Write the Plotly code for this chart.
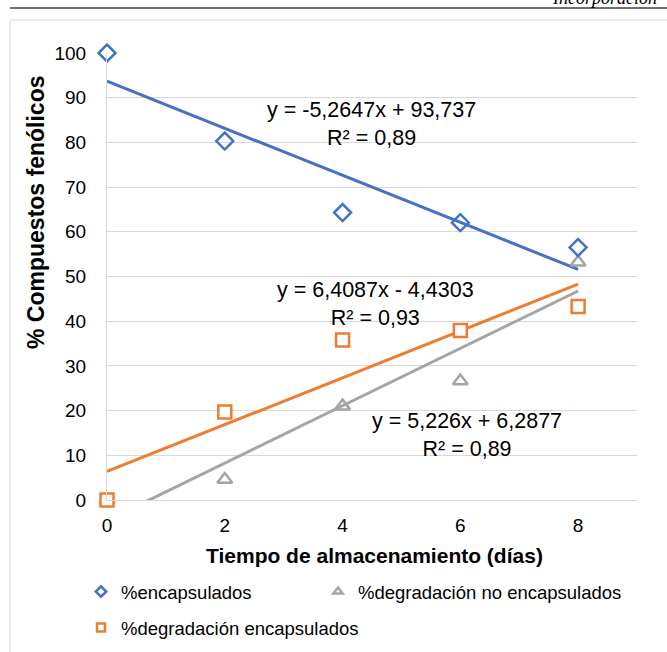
import numpy as np
import plotly.graph_objects as go

# ---- data ----
dias = [0, 2, 4, 6, 8]
encapsulados = [100.0, 80.3, 64.3, 62.05, 56.5]
degr_no_encaps = [0.0, 4.6, 21.0, 26.6, 53.2]
degr_encaps = [0.0, 19.7, 35.8, 37.9, 43.3]
x_ticks = [0, 2, 4, 6, 8]
y_ticks = [0, 10, 20, 30, 40, 50, 60, 70, 80, 90, 100]
eq_labels = [
    "y = -5,2647x + 93,737<br>R² = 0,89",
    "y = 6,4087x - 4,4303<br>R² = 0,93",
    "y = 5,226x + 6,2877<br>R² = 0,89",
]

BLUE = "#4472C4"
ORANGE = "#ED7D31"
GRAY = "#A5A5A5"
GRID = "#D9D9D9"
FONT = "Liberation Sans, Arial, sans-serif"

W, H = 667, 652
L, R, T, B = 107, 30, 53, 152
PW, PH = W - L - R, H - T - B


def px(x):
    return (x - L) / PW


def py(y):
    return (H - B - y) / PH


fig = go.Figure()

# trendlines (least squares)
for ys, col in [(encapsulados, BLUE), (degr_encaps, ORANGE), (degr_no_encaps, GRAY)]:
    m, b = np.polyfit(dias, ys, 1)
    xs = [dias[0], dias[-1]]
    fig.add_trace(go.Scatter(x=xs, y=[m * v + b for v in xs], mode="lines",
                             line=dict(color=col, width=3), showlegend=False,
                             hoverinfo="skip"))

series = [
    ("%degradación no encapsulados", degr_no_encaps, "triangle-up-open", GRAY, "legend2"),
    ("%encapsulados", encapsulados, "diamond-open", BLUE, "legend"),
    ("%degradación encapsulados", degr_encaps, "square", ORANGE, "legend3"),
]
for name, ys, sym, col, leg in series:
    fill = "white" if sym == "square" else col
    fig.add_trace(go.Scatter(x=dias, y=ys, mode="markers", name=name, showlegend=False,
                             marker=dict(symbol=sym, size=13, color=fill,
                                         line=dict(width=2.5, color=col)),
                             cliponaxis=False))
    # legend entry (smaller marker, as in the reference)
    fig.add_trace(go.Scatter(x=[None], y=[None], mode="markers", name=name, legend=leg,
                             marker=dict(symbol=sym, size=8, color=fill,
                                         line=dict(width=2.5, color=col))))

ann = []
for txt, cx, cy in zip(eq_labels, [371, 375, 467], [124, 304, 435]):
    ann.append(dict(text=txt, x=px(cx), y=py(cy), xref="paper", yref="paper",
                    showarrow=False, align="center", xanchor="center", yanchor="middle",
                    font=dict(family=FONT, size=21.5, color="#000000")))
ann.append(dict(text="<b>% Compuestos fenólicos</b>", x=px(36), y=py(213), xref="paper",
                yref="paper", showarrow=False, textangle=-90, xanchor="center",
                yanchor="middle", font=dict(family=FONT, size=23, color="#000000")))
ann.append(dict(text="<b>Tiempo de almacenamiento (días)</b>", x=px(374), y=py(555),
                xref="paper", yref="paper", showarrow=False, xanchor="center",
                yanchor="middle", font=dict(family=FONT, size=21, color="#000000")))
ann.append(dict(text="<i>Incorporación</i>", x=px(550), y=py(9.5), xref="paper",
                yref="paper", showarrow=False, xanchor="left", yanchor="bottom",
                font=dict(family="Liberation Serif, serif", size=18, color="#000000")))

shapes = [
    dict(type="line", xref="paper", yref="paper", x0=px(10), x1=px(700), y0=py(8), y1=py(8),
         line=dict(color="#404040", width=1.5)),
    dict(type="rect", xref="paper", yref="paper", x0=px(10), x1=px(720), y0=py(20), y1=py(720),
         line=dict(color=GRID, width=1)),
]

legfont = dict(family=FONT, size=18.5, color="#000000")
fig.update_layout(
    width=W, height=H,
    margin=dict(l=L, r=R, t=T, b=B, pad=0, autoexpand=False),
    paper_bgcolor="white", plot_bgcolor="white",
    font=dict(family=FONT, size=19, color="#000000"),
    xaxis=dict(range=[0, 9], tickvals=x_ticks, showgrid=False, zeroline=False,
               showline=True, linecolor=GRID, linewidth=1, ticks="",
               ticklabelstandoff=8, tickfont=dict(family=FONT, size=19, color="#000000")),
    yaxis=dict(range=[0, 100], tickvals=y_ticks, showgrid=True, gridcolor=GRID, gridwidth=1,
               zeroline=False, showline=True, linecolor=GRID, linewidth=1, ticks="",
               ticklabelstandoff=16, tickfont=dict(family=FONT, size=19, color="#000000")),
    annotations=ann, shapes=shapes,
    legend=dict(x=px(81), y=py(592), xanchor="left", yanchor="middle", orientation="h",
                font=legfont, bgcolor="rgba(0,0,0,0)"),
    legend2=dict(x=px(318), y=py(592), xanchor="left", yanchor="middle", orientation="h",
                 font=legfont, bgcolor="rgba(0,0,0,0)"),
    legend3=dict(x=px(81), y=py(628), xanchor="left", yanchor="middle", orientation="h",
                 font=legfont, bgcolor="rgba(0,0,0,0)"),
)

fig.write_html("out.html")
